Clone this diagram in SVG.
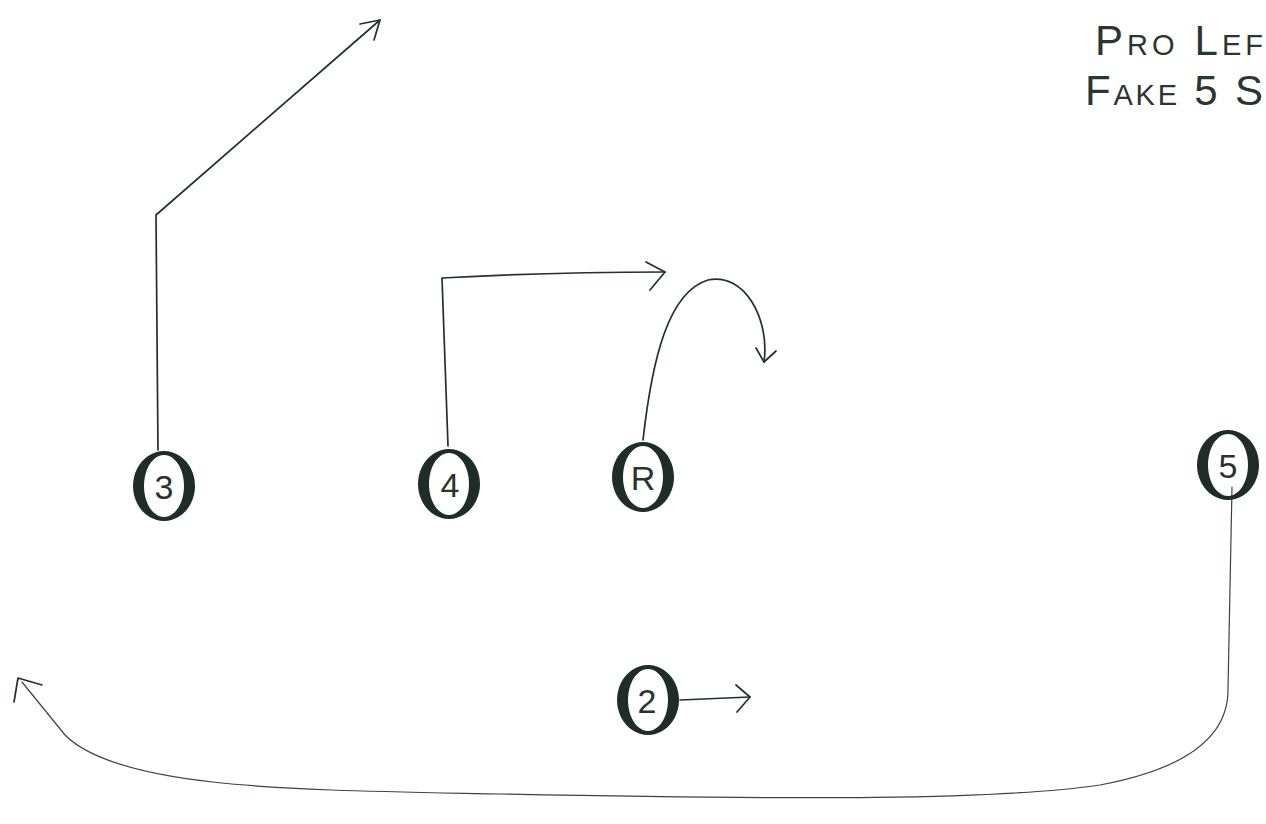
<svg xmlns="http://www.w3.org/2000/svg" width="1266" height="824" viewBox="0 0 1266 824">
<style>
.ln{fill:none;stroke:#23302c;stroke-width:1.7;stroke-linecap:round;stroke-linejoin:round}
.thin{fill:none;stroke:#3a4541;stroke-width:1.2;stroke-linecap:round}
.ring{fill:#1f2d29;fill-rule:evenodd}
.num{font-family:"Liberation Sans",sans-serif;font-size:34px;fill:#2a3330;text-anchor:middle}
.title{font-family:"Liberation Sans",sans-serif;font-size:42px;fill:#2b3532;font-variant:small-caps}
</style>
<defs>
<path id="O" class="ring" d="M0,-35 A31,35 0 1,0 0.01,-35 Z M0,-31 A20,31 0 1,1 -0.01,-31 Z"/>
</defs>
<rect width="1266" height="824" fill="#ffffff"/>
<g id="title">
<text class="title" x="1095" y="55" textLength="168" lengthAdjust="spacing">Pro Lef</text>
<text class="title" x="1085" y="105" textLength="178" lengthAdjust="spacing">Fake 5 S</text>
</g>
<g id="connectors">
<path class="ln" d="M158,450 L156,215 L380,20"/>
<path class="ln" d="M360,24 L380,20 L374,40"/>
<path class="ln" d="M448,446 L442,278 Q550,272 665,272"/>
<path class="ln" d="M646,262 L665,272 L650,290"/>
<path class="ln" d="M643,440 C652,360 668,292 708,280 C745,272 770,320 764,362"/>
<path class="ln" d="M756,348 L764,362 L776,351"/>
<path class="ln" d="M680,700 L750,697"/>
<path class="ln" d="M736,685 L750,697 L737,712"/>
<path class="thin" d="M1232,487 L1228,690 C1228,740 1180,770 1100,785 C1000,800 800,800 500,794 C300,790 120,790 65,735 L22,682"/>
<path class="ln" d="M14,702 L18,678 L42,685"/>
</g>
<g id="node3"><use href="#O" x="164" y="486"/><text class="num" x="164" y="499">3</text></g>
<g id="node4"><use href="#O" x="449" y="484"/><text class="num" x="450" y="497">4</text></g>
<g id="node1"><use href="#O" x="643" y="477"/><text class="num" x="643" y="490">R</text></g>
<g id="node5"><use href="#O" x="1228" y="465"/><text class="num" x="1228" y="478">5</text></g>
<g id="node2"><use href="#O" x="648" y="700"/><text class="num" x="647" y="713">2</text></g>
</svg>
